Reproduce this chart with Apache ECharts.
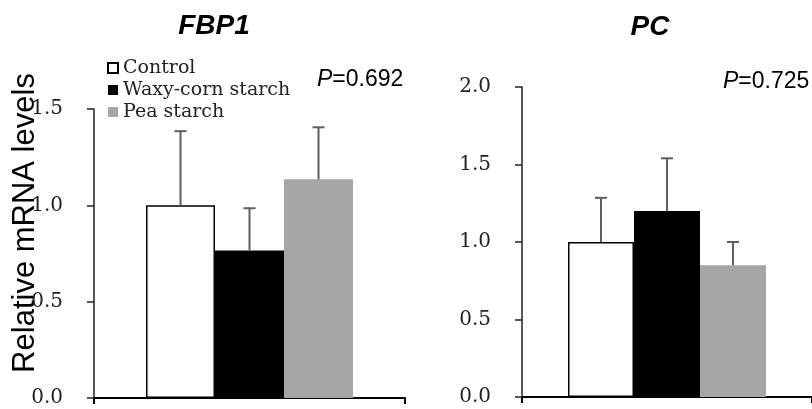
<!DOCTYPE html>
<html>
<head>
<meta charset="utf-8">
<script src="https://cdn.jsdelivr.net/npm/echarts@6/dist/echarts.min.js"></script>
<style>html,body{margin:0;padding:0;background:#fff}#c{width:812px;height:409px}</style>
</head>
<body>
<div id="c"></div>
<script>
const categories = [''];
const groups = ['Control', 'Waxy-corn starch', 'Pea starch'];
const fbp1Mean = [1.0, 0.765, 1.135];
const fbp1Err = [0.385, 0.22, 0.27];
const pcMean = [1.0, 1.2, 0.85];
const pcErr = [0.285, 0.34, 0.15];
const fbp1Axis = { min: 0, max: 1.5, interval: 0.5 };
const pcAxis = { min: 0, max: 2.0, interval: 0.5 };
const fbp1P = '0.692';
const pcP = '0.725';
const titles = ['FBP1', 'PC'];
const yTitle = 'Relative mRNA levels';

const colors = ['#ffffff', '#000000', '#a6a6a6'];
const BW = [69, 66];
const tickFont = '"DejaVu Serif"';

function barSeries(means, gi) {
  return groups.map((g, i) => ({
    type: 'bar', name: g, xAxisIndex: gi, yAxisIndex: gi,
    barWidth: BW[gi], barGap: '0%',
    data: [means[i]],
    itemStyle: i === 0 ? { color: '#ffffff', borderColor: '#000', borderWidth: 1.5 } : { color: colors[i] },
    emphasis: { disabled: true }, z: 2
  }));
}
function errSeries(means, errs, gi) {
  return {
    type: 'custom', xAxisIndex: gi, yAxisIndex: gi, z: 3, silent: true,
    encode: { x: 0, y: 1 },
    data: means.map((m, i) => [0, m, errs[i], i]),
    renderItem: function (params, api) {
      const m = api.value(1), e = api.value(2), i = api.value(3);
      const b = api.coord([0, m]);
      const t = api.coord([0, m + e]);
      const x = b[0] + (i - 1) * BW[gi];
      const st = { stroke: '#5f5f5f', lineWidth: 2 };
      return { type: 'group', children: [
        { type: 'line', shape: { x1: x, y1: b[1], x2: x, y2: t[1] }, style: st },
        { type: 'line', shape: { x1: x - 6, y1: t[1], x2: x + 6, y2: t[1] }, style: st }
      ] };
    }
  };
}
function yAx(gi, ax) {
  return {
    type: 'value', gridIndex: gi, min: ax.min, max: ax.max, interval: ax.interval,
    splitLine: { show: false },
    axisLine: { show: true, lineStyle: { color: '#222', width: 1.5 } },
    axisTick: { show: true, length: 7, lineStyle: { color: '#222', width: 1.5 } },
    axisLabel: { margin: 31, fontFamily: tickFont, fontSize: 20, color: '#222',
      formatter: v => v.toFixed(1) }
  };
}
function xAx(gi) {
  return {
    type: 'category', gridIndex: gi, data: categories, boundaryGap: true,
    axisLine: { show: true, onZero: false, lineStyle: { color: '#000', width: 2 } },
    axisTick: { show: true, length: 6, lineStyle: { color: '#000', width: 2 } },
    axisLabel: { show: false }
  };
}

const chart = echarts.init(document.getElementById('c'), null, { renderer: 'canvas' });
chart.setOption({
  backgroundColor: '#fff',
  animation: false,
  grid: [
    { left: 94, top: 109, width: 311, height: 289 },
    { left: 522, top: 87, width: 297, height: 310 }
  ],
  xAxis: [xAx(0), xAx(1)],
  yAxis: [yAx(0, fbp1Axis), yAx(1, pcAxis)],
  legend: {
    orient: 'vertical', left: 107, top: 57, padding: 0, itemGap: 0,
    itemWidth: 10, itemHeight: 10, icon: 'rect',
    data: groups,
    textStyle: { fontFamily: tickFont, fontSize: 19, color: '#222', lineHeight: 22 },
    selectedMode: false
  },
  graphic: [
    { type: 'text', x: 214, y: 26, style: { text: titles[0], font: 'italic bold 28px "Liberation Sans", Arial', fill: '#000', textAlign: 'center', textVerticalAlign: 'middle' } },
    { type: 'text', x: 650, y: 27, style: { text: titles[1], font: 'italic bold 28px "Liberation Sans", Arial', fill: '#000', textAlign: 'center', textVerticalAlign: 'middle' } },
    { type: 'text', x: 317, y: 80, style: { rich: { i: { fontStyle: 'italic', fontFamily: 'Liberation Sans', fontSize: 23, fill: '#000' }, n: { fontFamily: 'Liberation Sans', fontSize: 23, fill: '#000' } }, text: '{i|P}{n|=' + fbp1P + '}', textVerticalAlign: 'middle' } },
    { type: 'text', x: 723, y: 82, style: { rich: { i: { fontStyle: 'italic', fontFamily: 'Liberation Sans', fontSize: 23, fill: '#000' }, n: { fontFamily: 'Liberation Sans', fontSize: 23, fill: '#000' } }, text: '{i|P}{n|=' + pcP + '}', textVerticalAlign: 'middle' } },
    { type: 'text', x: 25, y: 223, rotation: Math.PI / 2, style: { text: yTitle, font: '31px "Liberation Sans", Arial', fill: '#000', textAlign: 'center', textVerticalAlign: 'middle' } }
  ],
  series: [].concat(
    barSeries(fbp1Mean, 0), [errSeries(fbp1Mean, fbp1Err, 0)],
    barSeries(pcMean, 1), [errSeries(pcMean, pcErr, 1)]
  )
});
</script>
</body>
</html>
